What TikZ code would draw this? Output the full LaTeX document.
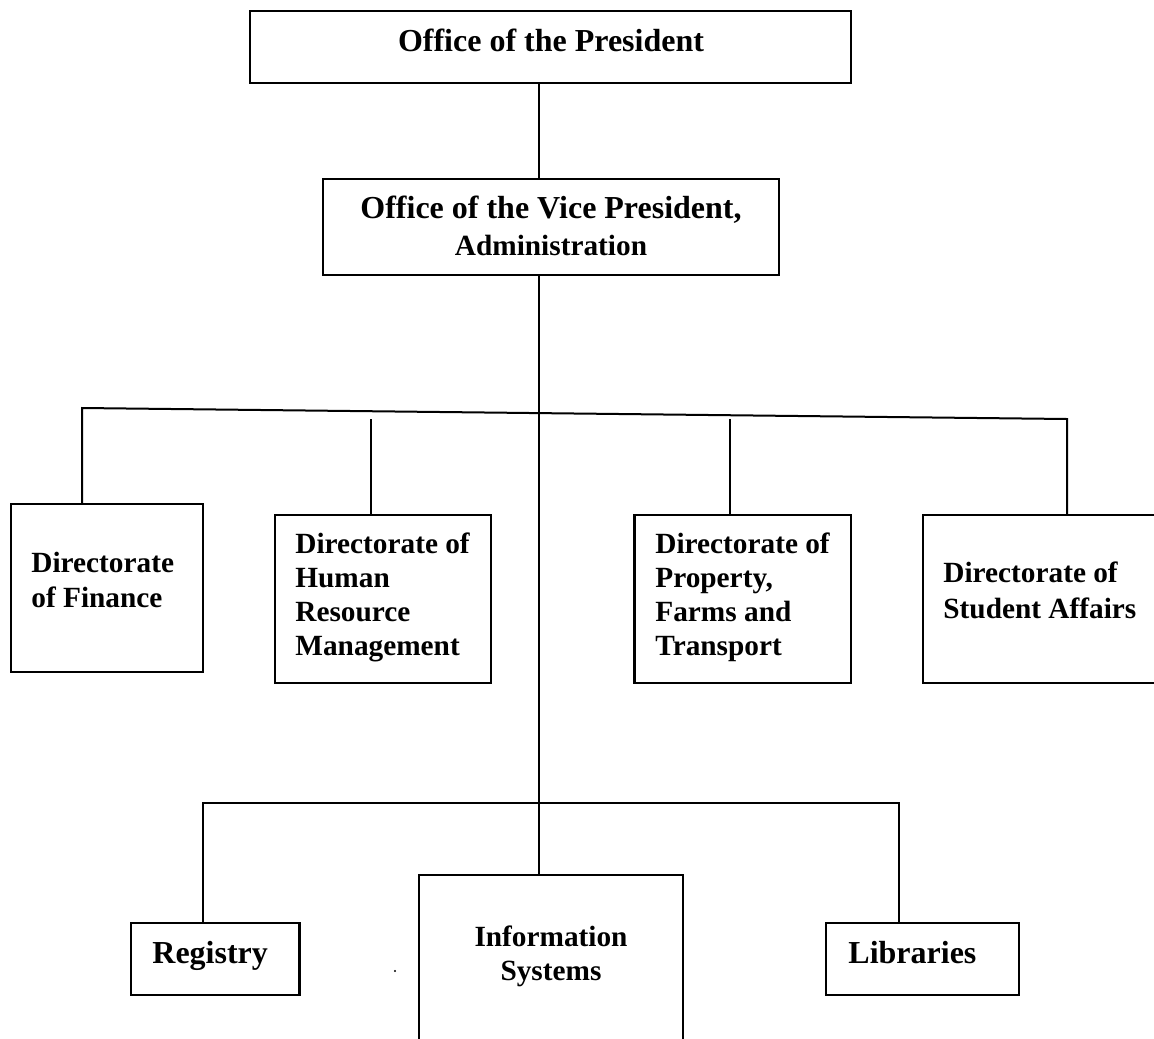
\documentclass[tikz,border=0pt]{standalone}
\usepackage{fontspec}
\setmainfont{Liberation Serif}
\begin{document}
\begin{tikzpicture}[x=0.5pt,y=-0.5pt,
  box/.style={draw, line width=1.2pt, inner sep=0pt},
  link/.style={line width=1pt},
  big/.style={font=\fontsize{16}{18.5}\selectfont\bfseries, inner sep=0pt},
  body/.style={font=\fontsize{14.65}{#1}\selectfont\bfseries, inner sep=0pt},
  body/.default=17]
\clip (0,0) rectangle (1154,1038);
\fill[white] (0,0) rectangle (1154,1038);

% boxes
\node[box, minimum width=300.5pt, minimum height=36pt] (pres) at (550.5,47) {};
\node[box, minimum width=228pt, minimum height=48pt] (vp) at (551,227) {};
\node[box, minimum width=96pt, minimum height=84pt] (fin) at (107,588) {};
\node[box, minimum width=108pt, minimum height=84pt] (hr) at (383,599) {};
\node[box, minimum width=108.25pt, minimum height=84pt] (prop) at (742.75,599) {};
\node[box, minimum width=126pt, minimum height=84pt] (stud) at (1049,599) {};
\node[box, minimum width=132pt, minimum height=92.5pt] (info) at (551,967.5) {};
\node[box, minimum width=84.25pt, minimum height=36pt] (reg) at (215.25,959) {};
\node[box, minimum width=96.5pt, minimum height=36pt] (lib) at (922.5,959) {};

% texts
\node[big, anchor=base] (prestxt) at (551,52) {Office of the President};
\node[big, anchor=base] (vptxt) at (551,218)
  {\begin{tabular}[t]{@{}c@{}}Office of the Vice President,\\
   \fontsize{14.65}{17}\selectfont Administration\end{tabular}};
\node[body=17.5, anchor=base west] (fintxt) at (31,572)
  {\begin{tabular}[t]{@{}l@{}}Directorate\\of Finance\end{tabular}};
\node[body, anchor=base west] (hrtxt) at (295,553)
  {\begin{tabular}[t]{@{}l@{}}Directorate of\\Human\\Resource\\Management\end{tabular}};
\node[body, anchor=base west] (proptxt) at (655,553)
  {\begin{tabular}[t]{@{}l@{}}Directorate of\\Property,\\Farms and\\Transport\end{tabular}};
\node[body=18, anchor=base west] (studtxt) at (943,582)
  {\begin{tabular}[t]{@{}l@{}}Directorate of\\Student Affairs\end{tabular}};
\node[body, anchor=base] (infotxt) at (551,946)
  {\begin{tabular}[t]{@{}c@{}}Information\\Systems\end{tabular}};
\node[big, anchor=base west] (regtxt) at (152,963) {Registry};
\node[big, anchor=base west] (libtxt) at (848,963) {Libraries};

% connector points
\coordinate (cx) at (539,0);
\coordinate (bl) at (82,408);
\coordinate (br) at (1067,419);
\coordinate (hrt) at (370.5,419);
\coordinate (prt) at (730,419);
\coordinate (ll) at (202.5,803);
\coordinate (lr) at (898.5,803);

% connectors
\draw[link] (pres.south -| cx) -- (vp.north -| cx);
\draw[link] (vp.south -| cx) -- (info.north -| cx);
\draw[link] (fin.north -| bl) -- (bl) -- (br) -- (stud.north -| br);
\draw[link] (hrt) -- (hr.north -| hrt);
\draw[link] (prt) -- (prop.north -| prt);
\draw[link] (reg.north -| ll) -- (ll) -- (lr) -- (lib.north -| lr);

% stray dot
\fill (395,971) circle (0.6pt);
\end{tikzpicture}
\end{document}
